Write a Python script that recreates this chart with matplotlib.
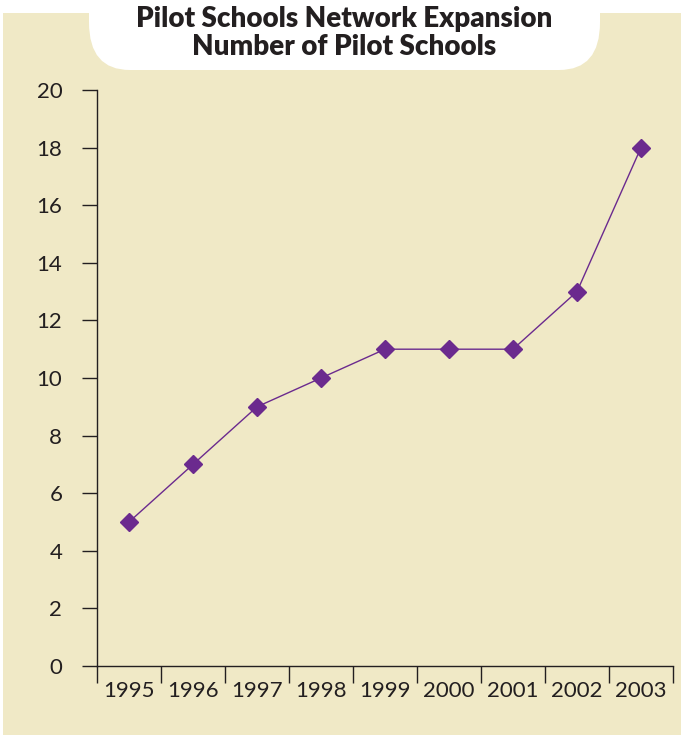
import matplotlib.pyplot as plt
from matplotlib.patches import Rectangle, FancyBboxPatch

years = ['1995', '1996', '1997', '1998', '1999', '2000', '2001', '2002', '2003']
schools = [5, 7, 9, 10, 11, 11, 11, 13, 18]
y_ticks = [0, 2, 4, 6, 8, 10, 12, 14, 16, 18, 20]

beige = '#f0e9c6'
purple = '#6b2a8e'

plt.rcParams['font.family'] = ['Lato', 'DejaVu Sans']

fig = plt.figure(figsize=(6.81, 7.35), dpi=100)
W, H = 681, 735

# background panel and the white title tab
fig.patches.append(Rectangle((3 / W, 0), 1, 1 - 13 / H, transform=fig.transFigure,
                             facecolor=beige, edgecolor='none', zorder=-3))
fig.patches.append(FancyBboxPatch((89 / W, 1 - 70 / H), (600 - 89) / W, 0.2,
                                  boxstyle='round,pad=0,rounding_size=0.06',
                                  transform=fig.transFigure, mutation_aspect=H / W,
                                  facecolor='white', edgecolor='none', zorder=-2))
fig.text(344 / W, 1 - 19 / H, 'Pilot Schools Network Expansion', ha='center', va='center',
         fontsize=20, fontweight='heavy', color='#231f20')
fig.text(344 / W, 1 - 47 / H, 'Number of Pilot Schools', ha='center', va='center',
         fontsize=20, fontweight='heavy', color='#231f20')

ax = fig.add_axes([97 / W, 1 - 666 / H, (673 - 97) / W, (666 - 90) / H])
ax.patch.set_visible(False)

x = [i + 0.5 for i in range(len(years))]
ax.plot(x, schools, color=purple, lw=1.0, marker='D', ms=9, mfc=purple, mec=purple)

ax.set_xlim(0, len(years))
ax.set_ylim(0, 20)
ax.set_yticks(y_ticks)
ax.set_xticks(range(len(years) + 1))
ax.set_xticklabels([])
ax.set_xticks(x, minor=True)
ax.set_xticklabels(years, minor=True)
ax.tick_params(axis='x', which='major', direction='out', length=12, width=1, color='#231f20')
ax.tick_params(axis='x', which='minor', length=0, pad=11, labelsize=16, labelcolor='#231f20')
ax.tick_params(axis='y', direction='out', length=11, width=1, pad=14, labelsize=16,
               color='#231f20', labelcolor='#231f20')
for s in ['top', 'right']:
    ax.spines[s].set_visible(False)
for s in ['left', 'bottom']:
    ax.spines[s].set_color('#231f20')
    ax.spines[s].set_linewidth(1)

fig.savefig('out.png', dpi=100)
